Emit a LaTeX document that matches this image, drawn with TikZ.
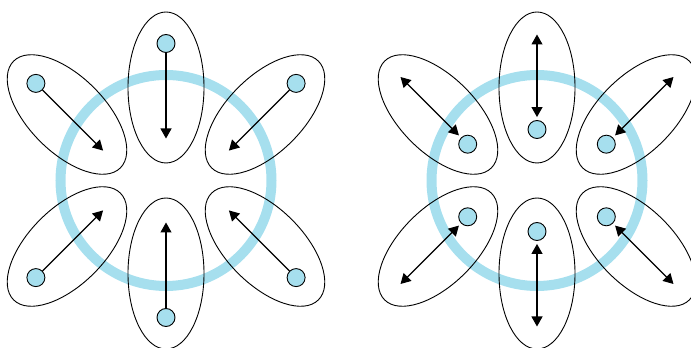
\documentclass[tikz,border=0pt]{standalone}
\usepackage{tikz}
\usetikzlibrary{arrows.meta}

\definecolor{ringblue}{RGB}{166,223,238}

\begin{document}
\begin{tikzpicture}[
  x=1pt, y=1pt,
  ring/.style={draw=ringblue, line width=10pt},
  oval/.style={draw, line width=0.9pt},
  dot/.style={circle, draw, fill=ringblue, line width=0.9pt, inner sep=0pt, minimum size=18pt},
  arrow/.style={-{Triangle[length=10pt, width=11pt]}, line width=1.1pt},
  biarrow/.style={{Triangle[length=10pt, width=11pt]}-{Triangle[length=10pt, width=11pt]}, line width=1.1pt}
]
\useasboundingbox (0,0) rectangle (691,348);

% left: arrows point into the ring
\begin{scope}[shift={(166,167.5)}]
\draw[ring] (0,0) circle (105.5);
\foreach \dx/\dy/\ang/\n in {0/93/90/t, -99/66/135/tl, 99/66/45/tr, -99/-66/225/bl, 99/-66/315/br, 0/-93/270/b} {
  \begin{scope}[shift={(\dx,\dy)}, rotate=\ang]
    \draw[oval] (0,0) ellipse [x radius=75.5pt, y radius=38pt];
    \node[dot] (L\n) at (44,0) {};
    \coordinate (L\n tip) at (-51,0);
  \end{scope}
  \draw[arrow] (L\n) -- (L\n tip);
}
\end{scope}

% right: dots inside, arrows both ways
\begin{scope}[shift={(537,167.5)}]
\draw[ring] (0,0) circle (105.5);
\foreach \dx/\dy/\ang/\n in {0/93/90/t, -99/66/135/tl, 99/66/45/tr, -99/-66/225/bl, 99/-66/315/br, 0/-93/270/b} {
  \begin{scope}[shift={(\dx,\dy)}, rotate=\ang]
    \draw[oval] (0,0) ellipse [x radius=75.5pt, y radius=38pt];
    \node[dot] (R\n) at (-42,0) {};
    \coordinate (R\n tip) at (53,0);
  \end{scope}
  \draw[biarrow, shorten <=3pt] (R\n) -- (R\n tip);
}
\end{scope}
\end{tikzpicture}
\end{document}
